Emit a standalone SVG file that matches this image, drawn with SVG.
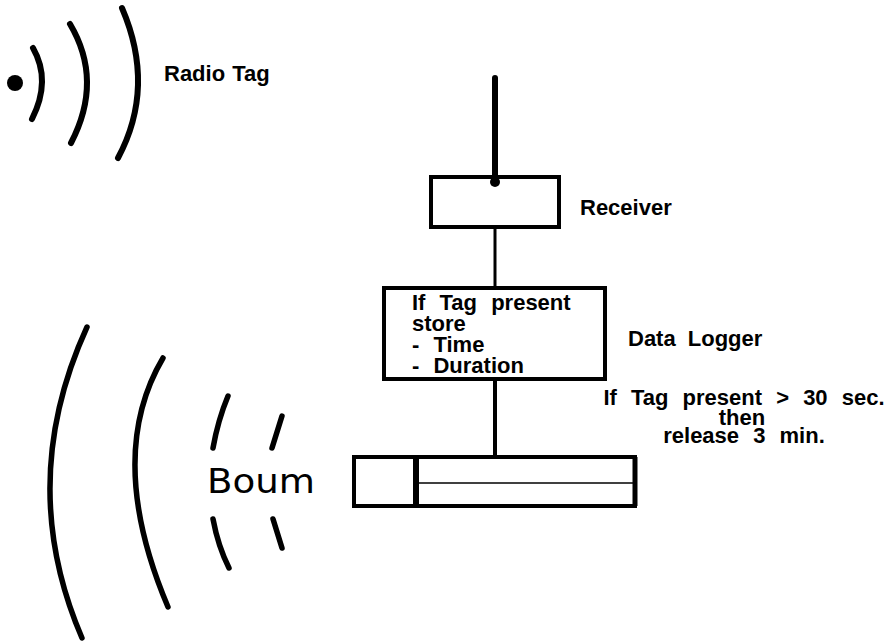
<svg xmlns="http://www.w3.org/2000/svg" width="893" height="642" viewBox="0 0 893 642">
<style>
.lbl{font-family:"Liberation Sans",Arial,sans-serif;font-weight:bold;font-size:22px;fill:#000}
.wave{fill:none;stroke:#000;stroke-linecap:round}
.box{fill:#fff;stroke:#000;stroke-width:4}
.conn{stroke:#000;fill:none}
</style>
<rect width="893" height="642" fill="#fff"/>
<g id="radio-tag">
<circle cx="15" cy="83" r="8" fill="#000"/>
<path class="wave" stroke-width="6" d="M33,48 Q51.5,80.5 32,119"/>
<path class="wave" stroke-width="6" d="M70,24 Q103.5,80.5 71,143"/>
<path class="wave" stroke-width="6" d="M122,8 Q156,87 118,158"/>
<text class="lbl" x="164" y="81" style="word-spacing:1px">Radio Tag</text>
</g>
<g id="connectors">
<line class="conn" x1="495" y1="78" x2="495" y2="181" stroke-width="6" stroke-linecap="round"/>
<circle cx="495" cy="182" r="5" fill="#000"/>
<line class="conn" x1="495" y1="227" x2="495" y2="288" stroke-width="3"/>
<line class="conn" x1="495" y1="379" x2="495" y2="457" stroke-width="4"/>
</g>
<g id="receiver">
<rect class="box" x="431" y="177" width="128" height="50" fill="none" style="fill:none"/>
<text class="lbl" x="580" y="215">Receiver</text>
</g>
<g id="data-logger">
<rect class="box" x="384" y="288" width="221" height="91"/>
<text class="lbl" style="word-spacing:8px"><tspan x="412" y="310">If Tag present</tspan><tspan x="412" y="331">store</tspan><tspan x="412" y="352">- Time</tspan><tspan x="412" y="373">- Duration</tspan></text>
<text class="lbl" x="628" y="346" style="word-spacing:6px">Data Logger</text>
</g>
<g id="condition">
<text class="lbl" text-anchor="middle" style="word-spacing:8px"><tspan x="744" y="405">If Tag present &gt; 30 sec.</tspan><tspan x="742" y="425">then</tspan><tspan x="744" y="443">release 3 min.</tspan></text>
</g>
<g id="release">
<rect class="box" x="354" y="457" width="281" height="49" style="stroke-width:4"/>
<line x1="416" y1="457" x2="416" y2="506" stroke="#000" stroke-width="6"/>
<line x1="416" y1="483" x2="637" y2="483" stroke="#000" stroke-width="1.5"/>
<line x1="635" y1="457" x2="635" y2="506" stroke="#000" stroke-width="5"/>
</g>
<g id="boum">
<path class="wave" stroke-width="5.5" d="M87,327 Q15.5,483.5 82,638"/>
<path class="wave" stroke-width="5.5" d="M163,358 Q104.5,457 168,607"/>
<path class="wave" stroke-width="5.5" d="M228,396 Q218,420 213,448"/>
<path class="wave" stroke-width="5.5" d="M282,416 L272,448"/>
<path class="wave" stroke-width="5.5" d="M213,519 Q218,546 229,568"/>
<path class="wave" stroke-width="5.5" d="M273,519 L282,548"/>
<text x="207" y="493" font-family="DejaVu Sans, sans-serif" font-size="33" textLength="108" lengthAdjust="spacingAndGlyphs" fill="#000">Boum</text>
</g>
</svg>
